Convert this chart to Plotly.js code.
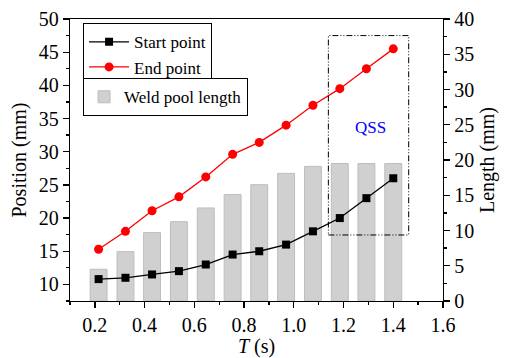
<!DOCTYPE html>
<html><head><meta charset="utf-8">
<script src="https://cdn.plot.ly/plotly-3.0.1.min.js"></script>
<style>html,body{margin:0;padding:0;background:#fff}#c{width:505px;height:358px}</style>
</head><body><div id="c"></div>
<script>
const T = [0.215, 0.323, 0.43, 0.538, 0.646, 0.754, 0.861, 0.969, 1.077, 1.185, 1.292, 1.4];
const startPoint = [10.8, 11.0, 11.5, 12.0, 13.0, 14.5, 15.0, 16.0, 18.0, 20.0, 23.0, 26.0];
const endPoint = [15.3, 18.0, 21.1, 23.2, 26.2, 29.6, 31.4, 34.0, 37.0, 39.5, 42.5, 45.5];
const poolLength = [4.5, 7.0, 9.7, 11.25, 13.2, 15.1, 16.5, 18.1, 19.1, 19.5, 19.5, 19.5];
const qssBox = {x0: 1.139, x1: 1.462, y0: 17.45, y1: 47.5};
const qssLabel = {x: 1.309, y: 33.6, text: 'QSS'};

const F = 'Liberation Serif';
const data = [
  {type:'bar', x:T, y:poolLength, yaxis:'y', name:'Weld pool length', width:0.068,
   marker:{color:'#d0d0d0', line:{color:'#bdbdbd', width:1}}, legend:'legend2'},
  {type:'scatter', mode:'lines+markers', x:T, y:startPoint, yaxis:'y2', name:'Start point',
   line:{color:'#000', width:1.3}, marker:{symbol:'square', size:8, color:'#000'}, legend:'legend'},
  {type:'scatter', mode:'lines+markers', x:T, y:endPoint, yaxis:'y2', name:'End point',
   line:{color:'#ff0000', width:1.3}, marker:{symbol:'circle', size:9, color:'#ff0000'}, legend:'legend'}
];
const axBase = {showgrid:false, zeroline:false, showline:true, linecolor:'#000', linewidth:1.3,
  ticks:'outside', ticklen:6, tickwidth:1.3, tickcolor:'#000',
  tickfont:{family:F, size:20, color:'#000'}};
const layout = {
  width:505, height:358, margin:{l:70, r:62, t:19, b:57},
  paper_bgcolor:'#fff', plot_bgcolor:'#fff', font:{family:F, color:'#000'},
  xaxis: Object.assign({}, axBase, {range:[0.1,1.6], tick0:0.2, dtick:0.2, tickformat:'.1f', mirror:true,
    minor:{dtick:0.1, ticklen:3, tickwidth:1.3, tickcolor:'#000', ticks:'outside'},
    title:{text:'<i>T</i> (s)', font:{family:F, size:20}, standoff:2}}),
  yaxis: Object.assign({}, axBase, {side:'right', range:[0,40], tick0:0, dtick:5,
    minor:{dtick:2.5, ticklen:3, tickwidth:1.3, tickcolor:'#000', ticks:'outside'},
    title:{text:'Length (mm)', font:{family:F, size:20}, standoff:6}}),
  yaxis2: Object.assign({}, axBase, {side:'left', overlaying:'y', range:[7.5,50], tick0:0, dtick:5,
    minor:{dtick:2.5, ticklen:3, tickwidth:1.3, tickcolor:'#000', ticks:'outside'},
    title:{text:'Position (mm)', font:{family:F, size:20}, standoff:6}}),
  showlegend:true,
  legend:{x:0.035, y:0.985, xanchor:'left', yanchor:'top', bgcolor:'#fff', bordercolor:'#000', borderwidth:1,
    font:{family:F, size:17, color:'#000'}, tracegroupgap:0, itemwidth:40},
  legend2:{x:0.035, y:0.79, xanchor:'left', yanchor:'top', bgcolor:'#fff', bordercolor:'#000', borderwidth:1,
    font:{family:F, size:17, color:'#000'}},
  shapes:[{type:'rect', xref:'x', yref:'y2', x0:qssBox.x0, x1:qssBox.x1, y0:qssBox.y0, y1:qssBox.y1,
    line:{color:'#000', width:1, dash:'6px,2px,1px,2px,1px,2px'}}],
  annotations:[{xref:'x', yref:'y2', x:qssLabel.x, y:qssLabel.y, text:qssLabel.text, showarrow:false,
    font:{family:F, size:17, color:'#0000ff'}}]
};
Plotly.newPlot('c', data, layout, {displayModeBar:false, staticPlot:true});
</script></body></html>
